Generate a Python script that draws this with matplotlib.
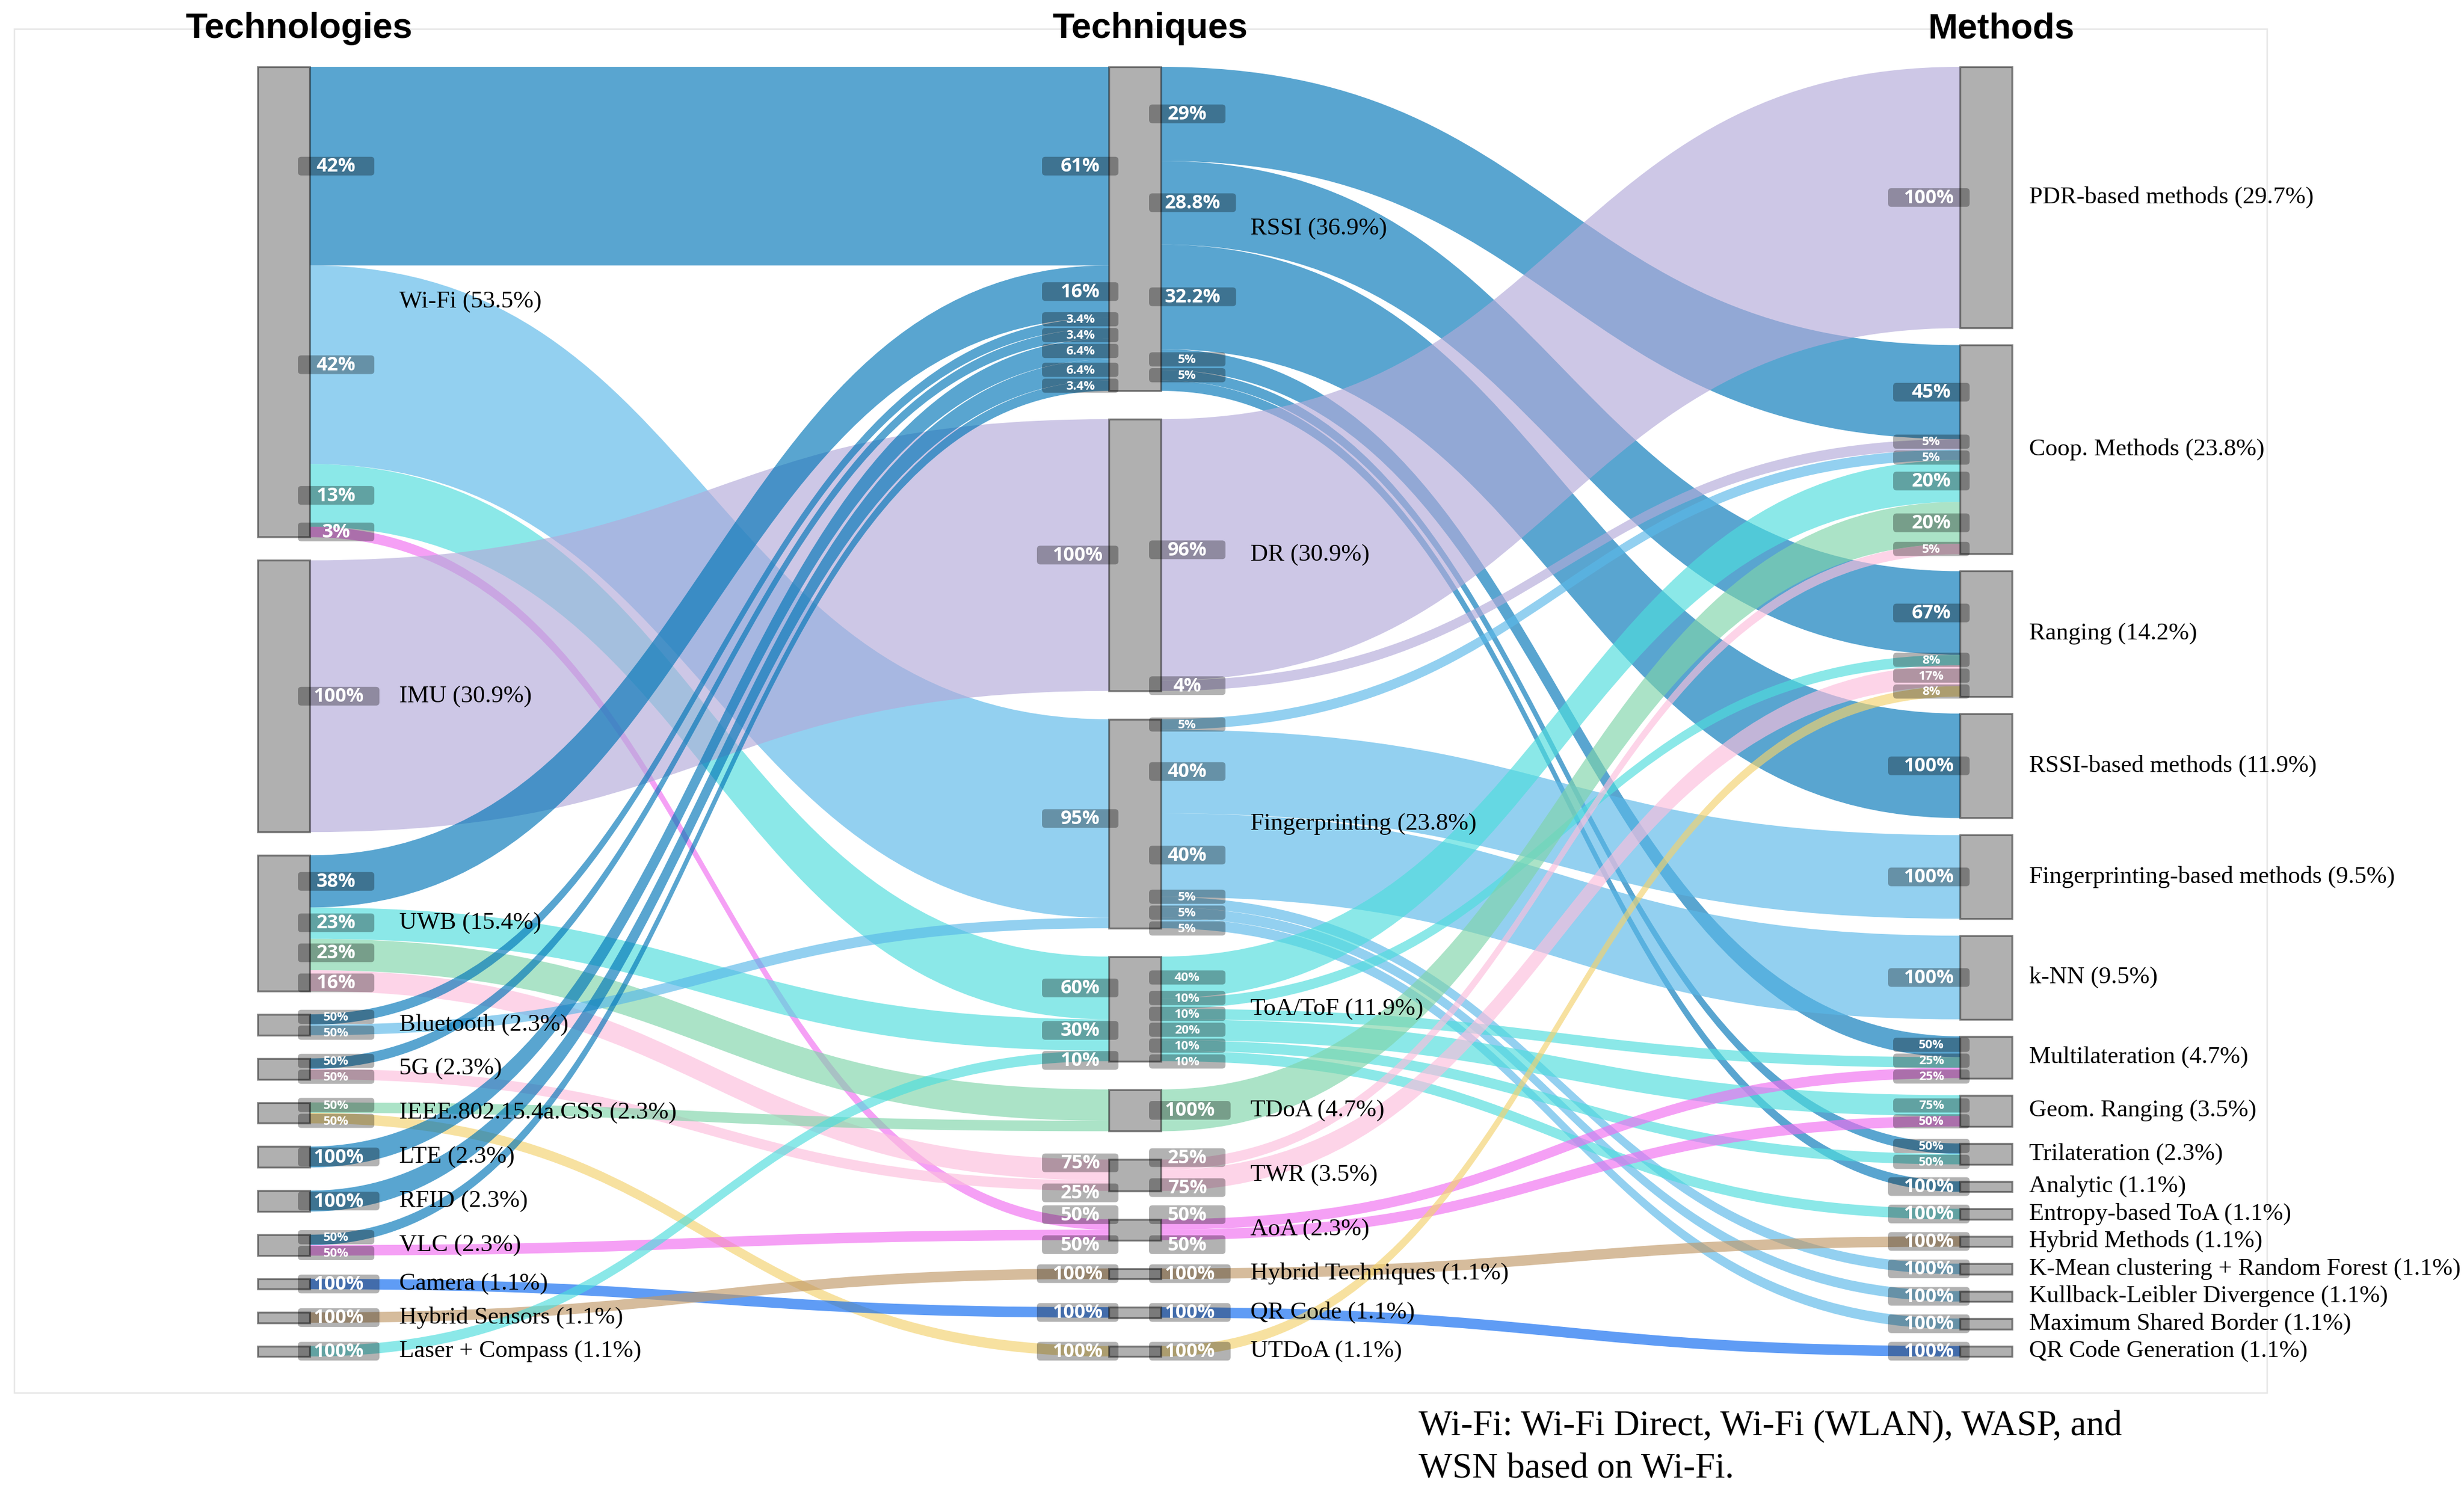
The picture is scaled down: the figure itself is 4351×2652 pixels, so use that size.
import math

import matplotlib

matplotlib.use("Agg")
import matplotlib.pyplot as plt
from matplotlib.patches import FancyBboxPatch, PathPatch, Rectangle
from matplotlib.path import Path

OUT_FILE = "out.png"
W_PX, H_PX, DPI = 4351, 2652, 300

# number of reviewed papers, node shares are value / N_PAPERS
N_PAPERS = 84

TECHNOLOGIES = [
    "Wi-Fi", "IMU", "UWB", "Bluetooth", "5G", "IEEE.802.15.4a.CSS", "LTE",
    "RFID", "VLC", "Camera", "Hybrid Sensors", "Laser + Compass",
]
TECHNIQUES = [
    "RSSI", "DR", "Fingerprinting", "ToA/ToF", "TDoA", "TWR", "AoA",
    "Hybrid Techniques", "QR Code", "UTDoA",
]
METHODS = [
    "PDR-based methods", "Coop. Methods", "Ranging", "RSSI-based methods",
    "Fingerprinting-based methods", "k-NN", "Multilateration", "Geom. Ranging",
    "Trilateration", "Analytic", "Entropy-based ToA", "Hybrid Methods",
    "K-Mean clustering + Random Forest", "Kullback-Leibler Divergence",
    "Maximum Shared Border", "QR Code Generation",
]

# technology -> technique flows
TT_SRC = [
    "Wi-Fi", "Wi-Fi", "Wi-Fi", "Wi-Fi", "IMU", "UWB", "UWB", "UWB", "UWB",
    "Bluetooth", "Bluetooth", "5G", "5G", "IEEE.802.15.4a.CSS",
    "IEEE.802.15.4a.CSS", "LTE", "RFID", "VLC", "VLC", "Camera",
    "Hybrid Sensors", "Laser + Compass",
]
TT_TGT = [
    "RSSI", "Fingerprinting", "ToA/ToF", "AoA", "DR", "RSSI", "ToA/ToF", "TDoA",
    "TWR", "RSSI", "Fingerprinting", "RSSI", "TWR", "TDoA", "UTDoA", "RSSI",
    "RSSI", "RSSI", "AoA", "QR Code", "Hybrid Techniques", "ToA/ToF",
]
TT_VAL = [19, 19, 6, 1, 26, 5, 3, 3, 2, 1, 1, 1, 1, 1, 1, 2, 2, 1, 1, 1, 1, 1]
TT_SRC_PCT = [
    "42%", "42%", "13%", "3%", "100%", "38%", "23%", "23%", "16%", "50%", "50%",
    "50%", "50%", "50%", "50%", "100%", "100%", "50%", "50%", "100%", "100%", "100%",
]
TT_TGT_PCT = [
    "61%", "95%", "60%", "50%", "100%", "16%", "30%", "", "75%", "3.4%", "",
    "3.4%", "25%", "", "100%", "6.4%", "6.4%", "3.4%", "50%", "100%", "100%", "10%",
]

# technique -> method flows
TM_SRC = [
    "RSSI", "RSSI", "RSSI", "RSSI", "RSSI", "RSSI", "DR", "DR",
    "Fingerprinting", "Fingerprinting", "Fingerprinting", "Fingerprinting",
    "Fingerprinting", "Fingerprinting", "ToA/ToF", "ToA/ToF", "ToA/ToF",
    "ToA/ToF", "ToA/ToF", "ToA/ToF", "TDoA", "TWR", "TWR", "AoA", "AoA",
    "Hybrid Techniques", "QR Code", "UTDoA",
]
TM_TGT = [
    "Coop. Methods", "Ranging", "RSSI-based methods", "Multilateration",
    "Trilateration", "Analytic", "PDR-based methods", "Coop. Methods",
    "Coop. Methods", "Fingerprinting-based methods", "k-NN",
    "K-Mean clustering + Random Forest", "Kullback-Leibler Divergence",
    "Maximum Shared Border", "Coop. Methods", "Ranging", "Multilateration",
    "Geom. Ranging", "Trilateration", "Entropy-based ToA", "Coop. Methods",
    "Coop. Methods", "Ranging", "Multilateration", "Geom. Ranging",
    "Hybrid Methods", "QR Code Generation", "Ranging",
]
TM_VAL = [9, 8, 10, 2, 1, 1, 25, 1, 1, 8, 8, 1, 1, 1, 4, 1, 1, 2, 1, 1, 4, 1, 2, 1, 1, 1, 1, 1]
TM_SRC_PCT = [
    "29%", "28.8%", "32.2%", "5%", "5%", "", "96%", "4%", "5%", "40%", "40%",
    "5%", "5%", "5%", "40%", "10%", "10%", "20%", "10%", "10%", "100%", "25%",
    "75%", "50%", "50%", "100%", "100%", "100%",
]
TM_TGT_PCT = [
    "45%", "67%", "100%", "50%", "50%", "100%", "100%", "5%", "5%", "100%",
    "100%", "100%", "100%", "100%", "20%", "8%", "25%", "75%", "50%", "100%",
    "20%", "5%", "17%", "25%", "50%", "100%", "100%", "8%",
]

# ---- style -------------------------------------------------------------
TECHNIQUE_COLORS = {
    "RSSI": "#0075b7",
    "DR": "#b2aad9",
    "Fingerprinting": "#59b8e8",
    "ToA/ToF": "#4ddddd",
    "TDoA": "#7fd4aa",
    "TWR": "#fcbedd",
    "AoA": "#f06df0",
    "Hybrid Techniques": "#c09867",
    "QR Code": "#0967f0",
    "UTDoA": "#f3d26d",
}
LINK_ALPHA = 0.65
# percent tags written with the small font (indices into the flow lists)
TT_SMALL_SRC = {9, 10, 11, 12, 13, 14, 17, 18}
TT_SMALL_TGT = {9, 11, 15, 16, 17}
TM_SMALL_SRC = {3, 4, 8, 11, 12, 13, 14, 15, 16, 17, 18, 19}
TM_SMALL_TGT = {3, 4, 7, 8, 15, 16, 17, 18, 21, 22, 23, 24, 27}

TOP, BOTTOM = 118, 2395
COL_X0, COL_STEP, NODE_W = 455, 1503, 92
NODE_PAD = 30
LABEL_GAP_OUT, LABEL_GAP_END = 158, 30
TAG_H_BIG, TAG_H_SMALL = 33, 25
TAG_GAP_BIG, TAG_GAP_SMALL = 20, 3

SERIF = "Liberation Serif"
SANS = "Liberation Sans"
TAG_FONT = "Open Sans"


def pt(px):
    return px * 72.0 / DPI


def build_layout():
    columns = [TECHNOLOGIES, TECHNIQUES, METHODS]
    stages = [
        (TT_SRC, TT_TGT, TT_VAL, TT_SRC_PCT, TT_TGT_PCT, TT_SMALL_SRC, TT_SMALL_TGT),
        (TM_SRC, TM_TGT, TM_VAL, TM_SRC_PCT, TM_TGT_PCT, TM_SMALL_SRC, TM_SMALL_TGT),
    ]
    nodes = {}
    for c, names in enumerate(columns):
        for name in names:
            nodes[name] = {"col": c, "in": 0.0, "out": 0.0, "src": [], "tgt": []}

    links = []
    for srcs, tgts, vals, spct, tpct, ssmall, tsmall in stages:
        for k, val in enumerate(vals):
            link = {
                "src": srcs[k], "tgt": tgts[k], "value": val,
                "src_pct": spct[k], "tgt_pct": tpct[k],
                "src_small": k in ssmall, "tgt_small": k in tsmall,
                "color": TECHNIQUE_COLORS[tgts[k] if tgts[k] in TECHNIQUE_COLORS else srcs[k]],
            }
            links.append(link)
            nodes[srcs[k]]["src"].append(link)
            nodes[srcs[k]]["out"] += val
            nodes[tgts[k]]["tgt"].append(link)
            nodes[tgts[k]]["in"] += val

    for node in nodes.values():
        node["value"] = max(node["in"], node["out"])

    span = BOTTOM - TOP
    ky = min(
        (span - (len(names) - 1) * NODE_PAD) / sum(nodes[n]["value"] for n in names)
        for names in columns
    )
    # each column is spread over the full height with equal gaps
    for c, names in enumerate(columns):
        total = sum(nodes[n]["value"] for n in names) * ky
        gap = (span - total) / (len(names) - 1)
        y = TOP
        x0 = COL_X0 + c * COL_STEP
        for n in names:
            node = nodes[n]
            node.update(x0=x0, x1=x0 + NODE_W, y0=y, y1=y + node["value"] * ky)
            y = node["y1"] + gap

    for node in nodes.values():
        y = node["y0"]
        for link in sorted(node["src"], key=lambda l: nodes[l["tgt"]]["y0"]):
            link["sy"] = y
            y += link["value"] * ky
        y = node["y0"]
        for link in sorted(node["tgt"], key=lambda l: nodes[l["src"]]["y0"]):
            link["ty"] = y
            y += link["value"] * ky
    for link in links:
        link["w"] = link["value"] * ky
    return nodes, links


def link_patch(x0, x1, sy, ty, w, color):
    xm = (x0 + x1) / 2.0
    verts = [
        (x0, sy), (xm, sy), (xm, ty), (x1, ty),
        (x1, ty + w), (xm, ty + w), (xm, sy + w), (x0, sy + w), (x0, sy),
    ]
    codes = [
        Path.MOVETO, Path.CURVE4, Path.CURVE4, Path.CURVE4,
        Path.LINETO, Path.CURVE4, Path.CURVE4, Path.CURVE4, Path.CLOSEPOLY,
    ]
    return PathPatch(Path(verts, codes), facecolor=color, alpha=LINK_ALPHA,
                     linewidth=0, zorder=2)


def collect_tags(nodes, links):
    # one list of tags for each side of each node
    groups = {}
    for link in links:
        s, t = nodes[link["src"]], nodes[link["tgt"]]
        if link["src_pct"]:
            groups.setdefault((link["src"], "right"), []).append({
                "text": link["src_pct"], "edge": s["x1"], "small": link["src_small"],
                "y": link["sy"] + link["w"] / 2.0})
        if link["tgt_pct"]:
            groups.setdefault((link["tgt"], "left"), []).append({
                "text": link["tgt_pct"], "edge": t["x0"], "small": link["tgt_small"],
                "y": link["ty"] + link["w"] / 2.0})
    tags = []
    for (name, side), group in groups.items():
        group.sort(key=lambda g: g["y"])
        for g in group:
            g["side"] = side
            g["h"] = TAG_H_SMALL if g["small"] else TAG_H_BIG
        # push overlapping tags apart
        for _ in range(300):
            moved = False
            for a, b in zip(group, group[1:]):
                gap = TAG_GAP_SMALL if (a["small"] or b["small"]) else TAG_GAP_BIG
                d = (a["h"] + b["h"]) / 2.0 + gap - (b["y"] - a["y"])
                if d > 0.01:
                    a["y"] -= d / 2.0
                    b["y"] += d / 2.0
                    moved = True
            if not moved:
                break
        tags.extend(group)
    return tags


def draw_tag(ax, renderer, tag):
    size = pt(22) if tag["small"] else pt(34)
    h, yc = tag["h"], tag["y"]
    t = ax.text(0, yc + 1, tag["text"], ha="center", va="center", color="white",
                fontsize=size, fontweight="bold", family=TAG_FONT, zorder=6)
    tw = t.get_window_extent(renderer).width
    bw = max(135, tw + 55)
    bx = tag["edge"] - 21 if tag["side"] == "right" else tag["edge"] + 17 - bw
    t.set_x(bx + bw / 2.0)
    ax.add_patch(FancyBboxPatch((bx, yc - h / 2.0), bw, h,
                                boxstyle="round,pad=0,rounding_size=6",
                                facecolor=(0, 0, 0, 0.3), linewidth=0, zorder=5))


def draw():
    nodes, links = build_layout()

    fig = plt.figure(figsize=(W_PX / DPI, H_PX / DPI), dpi=DPI)
    ax = fig.add_axes([0, 0, 1, 1])
    ax.set_xlim(0, W_PX)
    ax.set_ylim(H_PX, 0)
    ax.axis("off")
    renderer = fig.canvas.get_renderer()

    ax.add_patch(Rectangle((25, 51), 3978, 2408, fill=False,
                           edgecolor="#e6e6e6", linewidth=0.6, zorder=0))

    for link in links:
        s, t = nodes[link["src"]], nodes[link["tgt"]]
        ax.add_patch(link_patch(s["x1"], t["x0"], link["sy"], link["ty"],
                                link["w"], link["color"]))

    for name, node in nodes.items():
        ax.add_patch(Rectangle((node["x0"], node["y0"]), NODE_W,
                               node["y1"] - node["y0"], facecolor="#b0b0b0",
                               edgecolor=(0, 0, 0, 0.45), linewidth=0.8, zorder=3))
        share = math.floor(node["value"] * 1000 / N_PAPERS) / 10
        gap = LABEL_GAP_OUT if node["src"] else LABEL_GAP_END
        ax.text(node["x1"] + gap, (node["y0"] + node["y1"]) / 2.0,
                f"{name} ({share:.1f}%)", ha="left", va="center",
                fontsize=pt(43), family=SERIF, color="black", zorder=7)

    for tag in collect_tags(nodes, links):
        draw_tag(ax, renderer, tag)

    for c, title in enumerate(["Technologies", "Techniques", "Methods"]):
        cx = COL_X0 + c * COL_STEP + NODE_W / 2.0 + 27
        ax.text(cx, 67, title, ha="center", va="baseline", fontsize=pt(63),
                fontweight="bold", family=SANS, zorder=8)

    ax.text(2505, 2534, "Wi-Fi: Wi-Fi Direct, Wi-Fi (WLAN), WASP, and",
            ha="left", va="baseline", fontsize=pt(63), family=SERIF)
    ax.text(2505, 2609, "WSN based on Wi-Fi.", ha="left", va="baseline",
            fontsize=pt(63), family=SERIF)

    fig.savefig(OUT_FILE, dpi=DPI, facecolor="white")
    plt.close(fig)


if __name__ == "__main__":
    draw()
